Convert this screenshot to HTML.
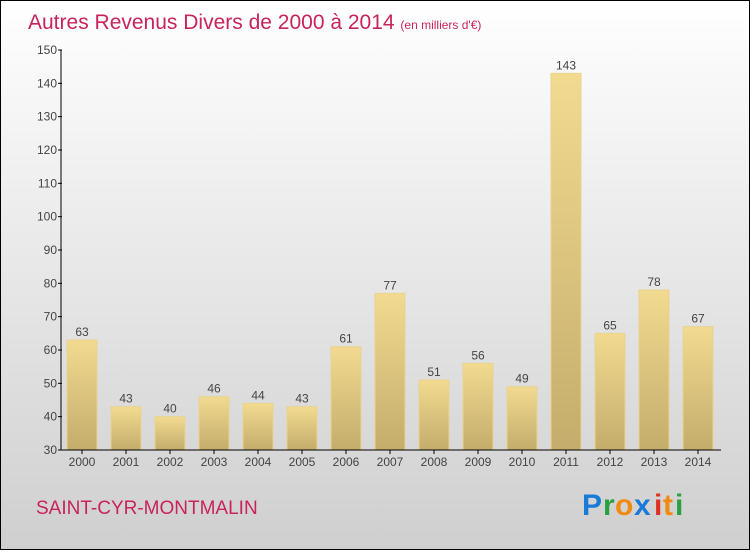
<!DOCTYPE html>
<html><head><meta charset="utf-8"><style>
html,body{margin:0;padding:0;}
body{width:750px;height:550px;overflow:hidden;font-family:"Liberation Sans",sans-serif;}
</style></head><body>
<svg width="750" height="550" xmlns="http://www.w3.org/2000/svg">
<defs>
<linearGradient id="bg" x1="0" y1="0" x2="0" y2="1"><stop offset="0" stop-color="#ffffff"/><stop offset="1" stop-color="#cfcfcf"/></linearGradient>
<linearGradient id="bar" x1="0" y1="0" x2="0" y2="1"><stop offset="0" stop-color="#f2da90"/><stop offset="1" stop-color="#c4ad6c"/></linearGradient>
</defs>
<rect x="0.5" y="0.5" width="749" height="549" fill="url(#bg)" stroke="#000"/>
<text x="28" y="29" font-size="21" fill="#c8245a">Autres Revenus Divers de 2000 à 2014 <tspan font-size="12">(en milliers d'€)</tspan></text>
<g id="bars"></g>
<g id="axes"></g>
<text x="36" y="514" font-size="19" fill="#c8245a">SAINT-CYR-MONTMALIN</text>
<g font-size="30" font-family="'Liberation Sans',sans-serif" font-weight="bold">
<text x="582" y="515" fill="#1a7ad8">P</text><text x="603" y="515" fill="#2aa040">r</text><text x="615" y="515" fill="#f08a10">o</text><text x="634" y="515" fill="#1a7ad8">x</text><text x="654" y="515" fill="#e03020">i</text><text x="663" y="515" fill="#f08a10">t</text><text x="675" y="515" fill="#2aa040">i</text>
</g>
</svg>
<script>
const years=["2000","2001","2002","2003","2004","2005","2006","2007","2008","2009","2010","2011","2012","2013","2014"];
const values=[63,43,40,46,44,43,61,77,51,56,49,143,65,78,67];
const yTicks=[30,40,50,60,70,80,90,100,110,120,130,140,150];
const NS="http://www.w3.org/2000/svg";
const y=v=>450-(v-30)*400/120;
const x=i=>82+i*44;
function mk(t,a,p){const e=document.createElementNS(NS,t);for(const k in a)e.setAttribute(k,a[k]);p.appendChild(e);return e;}
const gb=document.getElementById('bars'),ga=document.getElementById('axes');
values.forEach((v,i)=>{
 const r=mk('rect',{x:x(i)-15,y:y(v),width:30,height:450-y(v),fill:'url(#bar)',stroke:'#e8d48e','stroke-width':1},gb);
 
 
 const t=mk('text',{x:x(i),y:y(v)-4,'text-anchor':'middle','font-size':12,fill:'#444'},gb);
 t.textContent=v;
 
 
 const l=mk('text',{x:x(i),y:466,'text-anchor':'middle','font-size':12,fill:'#444'},ga);
 l.textContent=years[i];
 
 
 mk('line',{x1:x(i),x2:x(i),y1:450,y2:454,stroke:'#000'},ga);
});
yTicks.forEach(v=>{
 mk('line',{x1:58,x2:62,y1:y(v),y2:y(v),stroke:'#000'},ga);
 const t=mk('text',{x:57,y:y(v)+4,'text-anchor':'end','font-size':12,fill:'#444'},ga);
 t.textContent=v;
 
 
});
const ya=mk('line',{x1:61,x2:61,y1:50,y2:450,stroke:'#000'},ga);


const xa=mk('line',{x1:61,x2:721,y1:450,y2:450,stroke:'#000'},ga);


</script>
</body></html>
